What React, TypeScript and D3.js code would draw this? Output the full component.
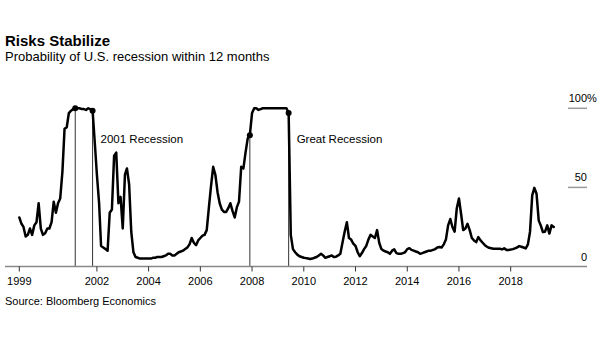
import React from "react";
import * as d3 from "d3";

const START_MONTH = "1999-01";
// Monthly probability of U.S. recession within 12 months (%), Jan 1999 onward
const probability = [
  31, 27, 25, 19, 20, 24, 20, 26, 28, 40, 24, 20,
  21, 24, 24, 28, 41, 34, 40, 43, 60, 87, 88, 97,
  98.5, 99.5, 100, 100, 100, 99.5, 99.5, 99, 100, 99.5, 98.5, 79,
  58, 40, 13, 12, 11, 10, 34, 36, 70, 72, 40, 44,
  24, 58, 62, 52, 22, 9, 6, 5.5, 5, 5, 5, 5,
  5, 5, 5.5, 5.5, 6, 6, 6, 6.5, 7, 8, 8, 7,
  7, 8, 9, 9.5, 10, 11, 12, 14, 18, 15, 13.5, 16.5,
  18, 19.5, 20, 23, 37, 51, 63, 58, 47, 40, 36, 34.5,
  34.5, 37, 40, 35, 31, 37.5, 41, 63, 62, 72, 81, 83,
  97, 100, 100, 99, 99.5, 100, 100, 100, 100, 100, 100, 100,
  100, 100, 100, 100, 100, 97, 20, 11, 9, 7.5, 6.5, 6,
  5.5, 5.3, 5, 4.7, 5, 5.5, 6, 7, 8, 7, 5.5, 6,
  6.5, 7, 6, 6.2, 7, 8, 15, 22, 28, 18, 17, 14.4,
  13, 9, 6.5, 8.5, 11, 13, 17, 20, 19, 18, 23, 15,
  11, 10, 9.5, 9, 8, 10, 10.8, 8.5, 8, 8, 8.5, 9,
  11, 11.6, 10.5, 10, 9.5, 9, 8, 8.5, 9, 9.5, 10, 10,
  10.5, 11, 12, 12.3, 12, 14, 17, 26, 30, 25, 22, 36.6,
  43, 33, 23, 24, 27, 23, 18, 16.5, 15.4, 18.6, 16.5, 15,
  13.5, 12.5, 11.8, 11.5, 11.2, 11.2, 11.2, 11.2, 10.8, 11.5, 10.5, 10.5,
  10.7, 11, 11.5, 12, 12.9, 12.5, 12, 11.4, 14, 22, 45, 49.7,
  46, 29, 26, 21.8, 22, 26, 20.8, 26, 25,
];

const xTickYears = [1999, 2002, 2004, 2006, 2008, 2010, 2012, 2014, 2016, 2018];
const yTicks = [0, 50, 100];
const recessionNames = ["2001 Recession", "Great Recession"];
const recessionStarts = ["2001-03", "2007-12"];
const recessionEnds = ["2001-11", "2009-06"];

const FONT = "'Liberation Sans', Arial, Helvetica, sans-serif";

export default function App() {
  const parse = d3.timeParse("%Y-%m");
  const start = parse(START_MONTH) as Date;
  const dates = probability.map((_, i) => d3.timeMonth.offset(start, i));

  const x = d3
    .scaleTime()
    .domain([new Date(1999, 0, 1), new Date(2018, 0, 1)])
    .range([19.3, 510.7]);
  const y = d3.scaleLinear().domain([0, 100]).range([266.5, 108.3]);

  const line = d3
    .line<number>()
    .x((_, i) => x(dates[i]))
    .y((d) => y(d));

  const valueAt = (m: string) => {
    const dt = parse(m) as Date;
    const idx = d3.timeMonth.count(start, dt);
    return { date: dt, v: probability[idx] };
  };

  const y0 = y(0);
  const axisLeft = 5;
  const axisRight = 587;

  return (
    <svg
      width={605}
      height={341}
      style={{ position: "absolute", left: 0, top: 0, background: "#fff" }}
      fontFamily={FONT}
    >
      <rect x={0} y={0} width={605} height={341} fill="#fff" />
      <text x={5} y={46} fontSize={15} fontWeight="bold" fill="#000">
        Risks Stabilize
      </text>
      <text x={5} y={61} fontSize={13} fill="#000">
        Probability of U.S. recession within 12 months
      </text>

      {/* y gridline stubs and labels */}
      {yTicks.map((t) => (
        <g key={t}>
          {t !== 0 && (
            <line
              x1={568}
              x2={axisRight}
              y1={y(t)}
              y2={y(t)}
              stroke="#999"
              strokeWidth={1.5}
            />
          )}
          <text x={axisRight} y={y(t) - 6} fontSize={11} textAnchor="end" fill="#000">
            {t}
          </text>
          {t === 100 && (
            <text x={axisRight} y={y(t) - 6} fontSize={11} fill="#000">
              %
            </text>
          )}
        </g>
      ))}

      {/* recession markers */}
      {recessionNames.map((name, i) => {
        const s = valueAt(recessionStarts[i]);
        const e = valueAt(recessionEnds[i]);
        return (
          <g key={name}>
            {[s, e].map((p, j) => (
              <line
                key={j}
                x1={x(p.date)}
                x2={x(p.date)}
                y1={y(p.v)}
                y2={y0}
                stroke="#333"
                strokeWidth={1}
              />
            ))}
            <text x={x(e.date) + 8} y={143} fontSize={11.5} fill="#000">
              {name}
            </text>
          </g>
        );
      })}

      {/* x axis */}
      <line x1={axisLeft} x2={axisRight} y1={y0} y2={y0} stroke="#888" strokeWidth={1.5} />
      {xTickYears.map((yr) => {
        const tx = x(new Date(yr, 0, 1));
        return (
          <g key={yr}>
            <line x1={tx} x2={tx} y1={y0} y2={y0 + 5} stroke="#333" strokeWidth={1} />
            <text x={tx} y={y0 + 18} fontSize={11} textAnchor="middle" fill="#000">
              {yr}
            </text>
          </g>
        );
      })}

      <path
        d={line(probability) || ""}
        fill="none"
        stroke="#000"
        strokeWidth={2.5}
        strokeLinejoin="round"
        strokeLinecap="round"
      />

      {recessionNames.map((name, i) => {
        const s = valueAt(recessionStarts[i]);
        const e = valueAt(recessionEnds[i]);
        return (
          <g key={name + "dots"}>
            <circle cx={x(s.date)} cy={y(s.v)} r={3} fill="#000" />
            <circle cx={x(e.date)} cy={y(e.v)} r={3} fill="#000" />
          </g>
        );
      })}

      <text x={5} y={y0 + 38} fontSize={11} fill="#000">
        Source: Bloomberg Economics
      </text>
    </svg>
  );
}
